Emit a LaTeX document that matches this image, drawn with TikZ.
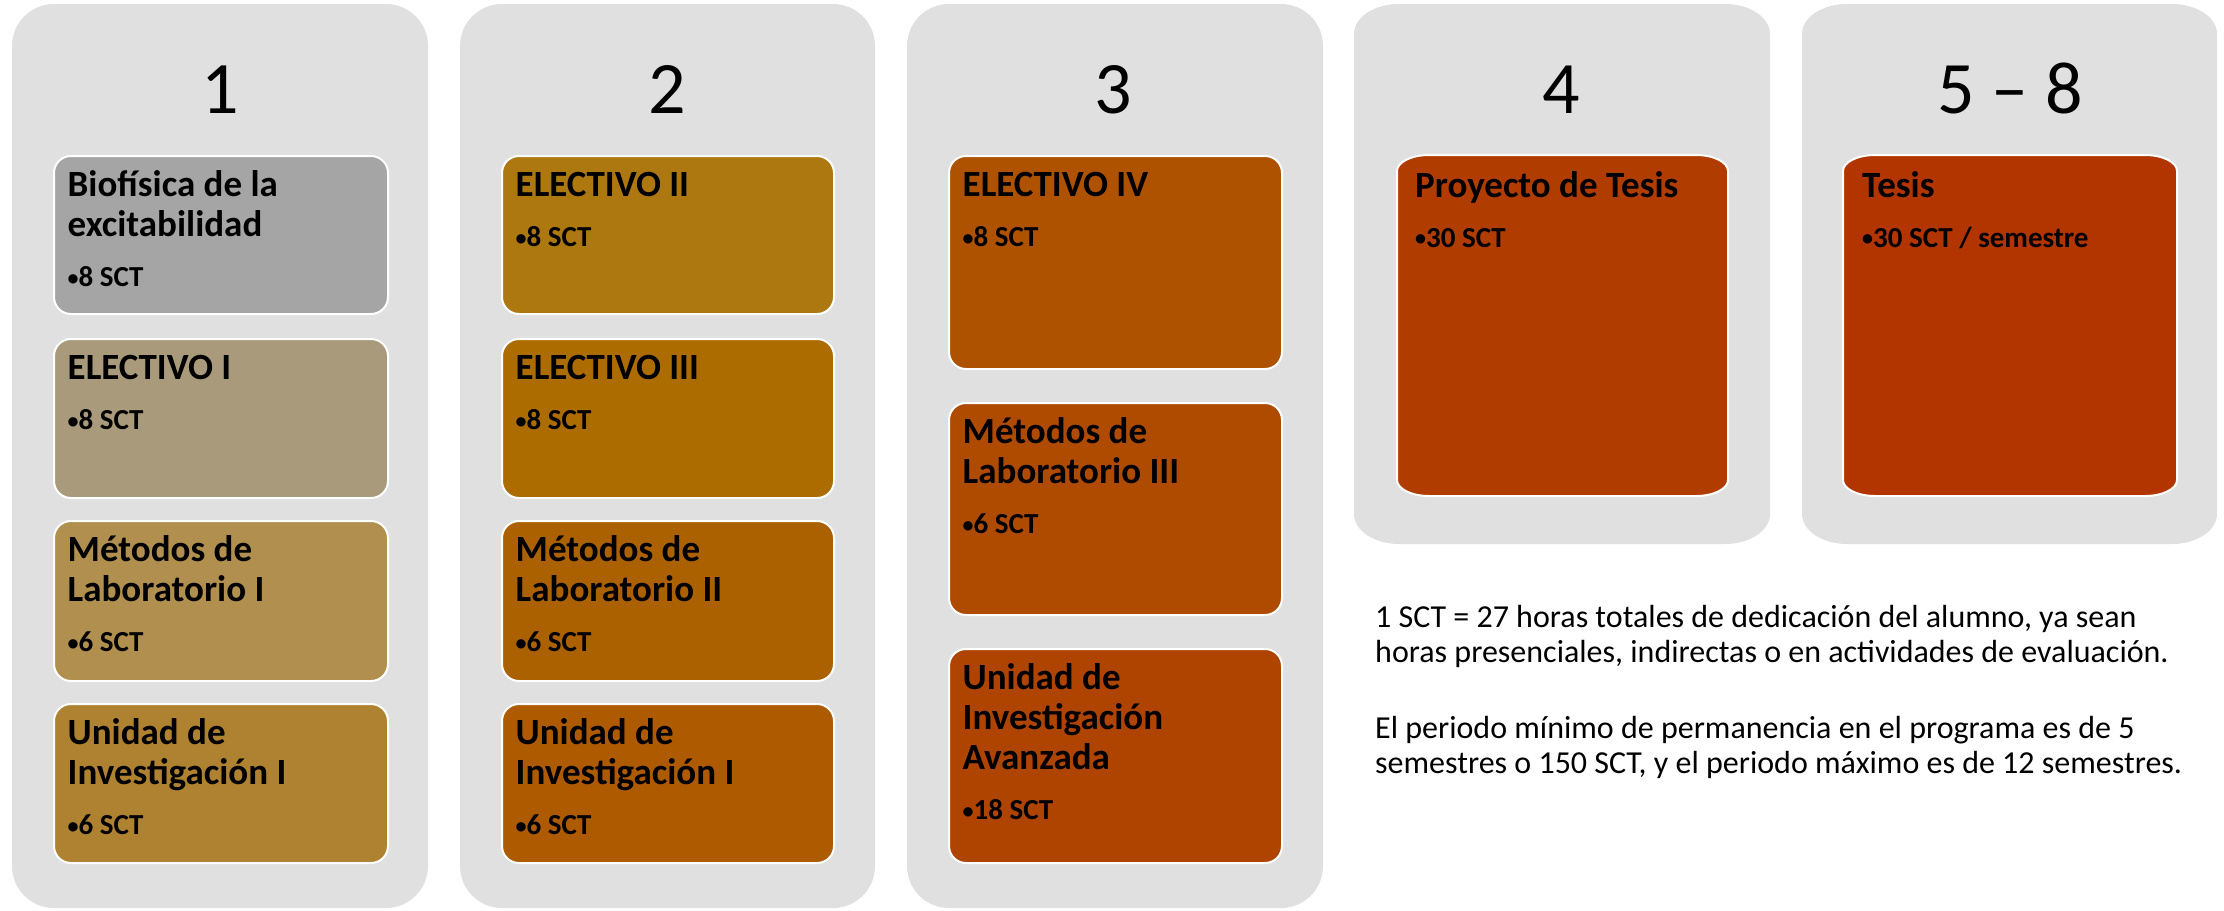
\documentclass[tikz,border=0pt]{standalone}
\usepackage{fontspec}
\setmainfont{Carlito}
\definecolor{panel}{HTML}{E0E0E0}
\definecolor{cA}{HTML}{A5A5A5}
\definecolor{cB}{HTML}{A99A7B}
\definecolor{cC}{HTML}{B08F4F}
\definecolor{cD}{HTML}{AE8231}
\definecolor{cE}{HTML}{AE7810}
\definecolor{cF}{HTML}{AC6C00}
\definecolor{cG}{HTML}{AC6100}
\definecolor{cH}{HTML}{AD5A00}
\definecolor{cI}{HTML}{AE5200}
\definecolor{cJ}{HTML}{AF4B00}
\definecolor{cK}{HTML}{AF4400}
\definecolor{cL}{HTML}{B13C00}
\definecolor{cM}{HTML}{B23500}
\newcommand\bul{{\fontsize{22}{22}\selectfont\raisebox{1.5pt}{•}}}
\tikzset{
  cbox/.style={draw=white, line width=2pt, rounded corners=17pt, inner sep=0pt},
  ctitle/.style={anchor=base west, inner sep=0pt, font=\bfseries\fontsize{37}{40}\selectfont},
  cbullet/.style={anchor=base west, inner sep=0pt, font=\bfseries\fontsize{29}{30}\selectfont},
  semtitle/.style={anchor=base, inner sep=0pt, font=\fontsize{74}{74}\selectfont},
  note/.style={anchor=base west, inner sep=0pt, font=\fontsize{32}{36}\selectfont},
}
% #1 name, #2 x, #3 top, #4 width, #5 height, #6 colour, #7 number of lines, #8 lines, #9 bullet
\newcommand\course[9]{%
  \node[cbox, fill=#6, minimum width=#4pt, minimum height=#5pt, anchor=north west] (#1) at (#2,-#3) {};
  \foreach \cl [count=\k] in {#8}{\node[ctitle] (#1-\k) at ({#2+14.5},{-#3-41.5-40*(\k-1)}) {\cl};}
  \node[cbullet] (#1-b) at ({#2+14.5},{-#3-41.5-40*(#7-1)-50}) {\bul#9};
}
% elliptical-corner box: #1 style, #2 x1, #3 top, #4 x2, #5 bottom, #6 rx, #7 ry
\newcommand\ebox[7]{%
  \path[#1] ({#2+#6},{-#3}) -- ({#4-#6},{-#3})
    arc[start angle=90,end angle=0,x radius=#6,y radius=#7] -- ({#4},{-#5+#7})
    arc[start angle=0,end angle=-90,x radius=#6,y radius=#7] -- ({#2+#6},{-#5})
    arc[start angle=270,end angle=180,x radius=#6,y radius=#7] -- ({#2},{-#3-#7})
    arc[start angle=180,end angle=90,x radius=#6,y radius=#7] -- cycle;}
\begin{document}
\begin{tikzpicture}[x=1pt,y=1pt]
\useasboundingbox[fill=white] (0,0) rectangle (2224,-910);
% panels
\fill[panel, rounded corners=42pt] (12,-4) rectangle (428,-908);
\fill[panel, rounded corners=42pt] (460,-4) rectangle (875,-908);
\fill[panel, rounded corners=42pt] (907,-4) rectangle (1323,-908);
\ebox{fill=panel}{1354}{4}{1770}{544}{45}{30}
\ebox{fill=panel}{1802}{4}{2217}{544}{45}{30}
% semester titles
\node[semtitle] (s1) at (220,-113) {1};
\node[semtitle] (s2) at (667,-113) {2};
\node[semtitle] (s3) at (1113,-113) {3};
\node[semtitle] (s4) at (1561,-113) {4};
\node[semtitle] (s5) at (2010,-113) {5 – 8};
% column 1
\course{b11}{53}{155}{334}{158}{cA}{2}{Biofísica de la,excitabilidad}{8 SCT}
\course{b12}{53}{338}{334}{159}{cB}{1}{ELECTIVO I}{8 SCT}
\course{b13}{53}{520}{334}{160}{cC}{2}{Métodos de,Laboratorio I}{6 SCT}
\course{b14}{53}{703}{334}{159}{cD}{2}{Unidad de,Investigación I}{6 SCT}
% column 2
\course{b21}{501}{155}{332}{158}{cE}{1}{ELECTIVO II}{8 SCT}
\course{b22}{501}{338}{332}{159}{cF}{1}{ELECTIVO III}{8 SCT}
\course{b23}{501}{520}{332}{160}{cG}{2}{Métodos de,Laboratorio II}{6 SCT}
\course{b24}{501}{703}{332}{159}{cH}{2}{Unidad de,Investigación I}{6 SCT}
% column 3
\course{b31}{948}{155}{333}{213}{cI}{1}{ELECTIVO IV}{8 SCT}
\course{b32}{948}{402}{333}{212}{cJ}{2}{Métodos de,Laboratorio III}{6 SCT}
\course{b33}{948}{648}{333}{214}{cK}{3}{Unidad de,Investigación,Avanzada}{18 SCT}
% column 4 and 5
\ebox{fill=cL, draw=white, line width=2pt}{1397}{155}{1728}{496}{32}{16}
\coordinate (b41) at (1562,-325);
\node[ctitle] (b41-1) at (1415,-197) {Proyecto de Tesis};
\node[cbullet] (b41-b) at (1415,-247) {\bul30 SCT};
\ebox{fill=cM, draw=white, line width=2pt}{1843}{155}{2177}{496}{32}{16}
\coordinate (b51) at (2010,-325);
\node[ctitle] (b51-1) at (1862,-197) {Tesis};
\node[cbullet] (b51-b) at (1862,-247) {\bul30 SCT / semestre};
% notes
\node[note] (p1) at (1375,-627) {1 SCT = 27 horas totales de dedicación del alumno, ya sean};
\node[note] (p2) at (1375,-662) {horas presenciales, indirectas o en actividades de evaluación.};
\node[note] (p3) at (1375,-738) {El periodo mínimo de permanencia en el programa es de 5};
\node[note] (p4) at (1375,-773) {semestres o 150 SCT, y el periodo máximo es de 12 semestres.};
\end{tikzpicture}
\end{document}
